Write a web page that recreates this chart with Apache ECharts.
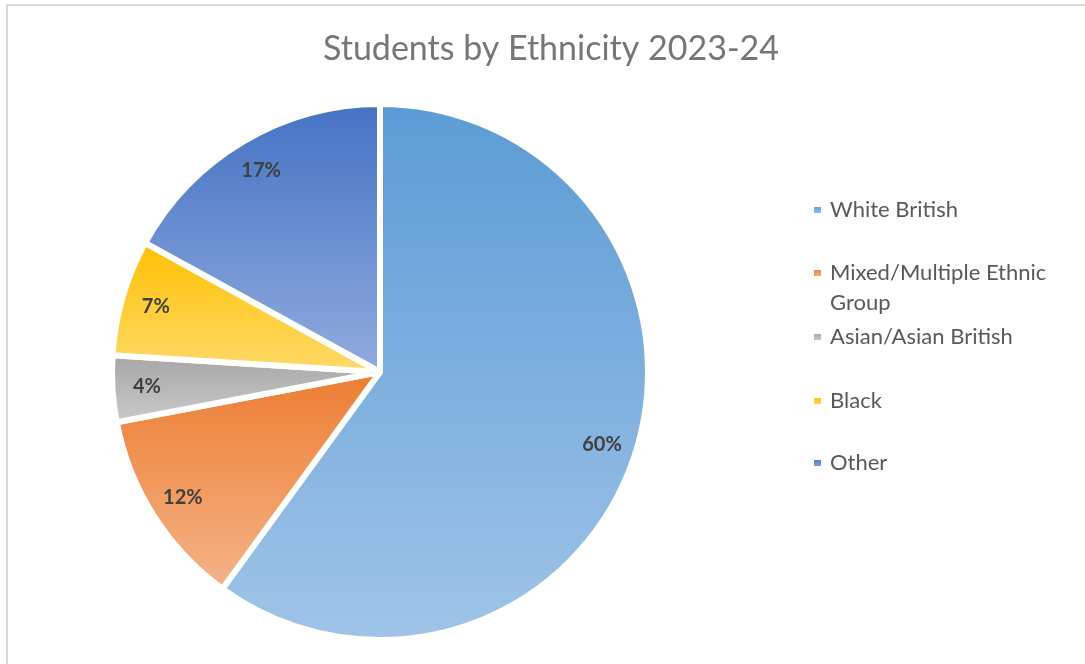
<!DOCTYPE html>
<html>
<head>
<meta charset="utf-8">
<script src="https://cdn.jsdelivr.net/npm/echarts@6/dist/echarts.min.js"></script>
<style>html,body{margin:0;padding:0;background:#fff;}#c{width:1085px;height:664px;}</style>
</head>
<body>
<div id="c"></div>
<script>
var categories = ['White British', 'Mixed/Multiple Ethnic Group', 'Asian/Asian British', 'Black', 'Other'];
var values = [60, 12, 4, 7, 17];
var topColors = ['#5b9bd5', '#ed7d31', '#a5a5a5', '#ffc000', '#4472c4'];
var bottomColors = ['#a0c4e8', '#f5b488', '#cbcbcb', '#ffda6a', '#92acde'];
var legendText = ['White British', ' \nMixed/Multiple Ethnic\nGroup', 'Asian/Asian British', 'Black', 'Other'];

var FONT = 'Lato, "Open Sans", sans-serif';
var cx = 380, cy = 372, R = 268;

function grad(i) {
  return new echarts.graphic.LinearGradient(0, 0, 0, 1, [
    { offset: 0, color: topColors[i] },
    { offset: 1, color: bottomColors[i] }
  ]);
}

var mainData = categories.map(function (n, i) {
  return { name: n, value: values[i], itemStyle: { color: grad(i) } };
});
var labelData = categories.map(function (n, i) {
  return { name: n, value: values[i] };
});

var legendCenters = [210, 273, 337, 401, 463];
var legends = categories.map(function (n, i) {
  var lines = legendText[i].split('\n').length;
  return {
    orient: 'vertical',
    left: 812,
    top: legendCenters[i] - 15 * lines,
    padding: 0,
    itemWidth: 9,
    itemHeight: 8,
    icon: 'rect',
    selectedMode: false,
    data: [n],
    formatter: function () { return legendText[i]; },
    textStyle: {
      fontFamily: FONT,
      fontSize: 22,
      color: '#595959',
      lineHeight: 30,
      padding: [0, 0, 0, 3]
    }
  };
});

var chart = echarts.init(document.getElementById('c'));
chart.setOption({
  animation: false,
  backgroundColor: '#fff',
  title: {
    text: 'Students by Ethnicity 2023-24',
    left: 546,
    top: 27,
    textAlign: 'center',
    textStyle: { fontFamily: FONT, fontSize: 34, fontWeight: 'normal', color: '#767676' }
  },
  legend: legends,
  graphic: [{
    type: 'rect',
    shape: { x: 7, y: 5, width: 1200, height: 800 },
    style: { fill: 'none', stroke: '#d9d9d9', lineWidth: 2 },
    silent: true
  }],
  series: [{
    type: 'pie',
    center: [cx, cy],
    radius: [0, R],
    startAngle: 90,
    clockwise: true,
    silent: true,
    label: { show: false },
    labelLine: { show: false },
    itemStyle: { borderColor: '#fff', borderWidth: 6 },
    data: mainData
  }, {
    type: 'pie',
    center: [cx, cy],
    radius: [R * 0.72, R],
    startAngle: 90,
    clockwise: true,
    silent: true,
    itemStyle: { color: 'rgba(0,0,0,0)' },
    label: {
      show: true,
      position: 'inside',
      formatter: '{c}%',
      fontFamily: FONT,
      fontSize: 20,
      fontWeight: 'bold',
      color: '#404040'
    },
    labelLine: { show: false },
    data: labelData
  }]
});
</script>
</body>
</html>
